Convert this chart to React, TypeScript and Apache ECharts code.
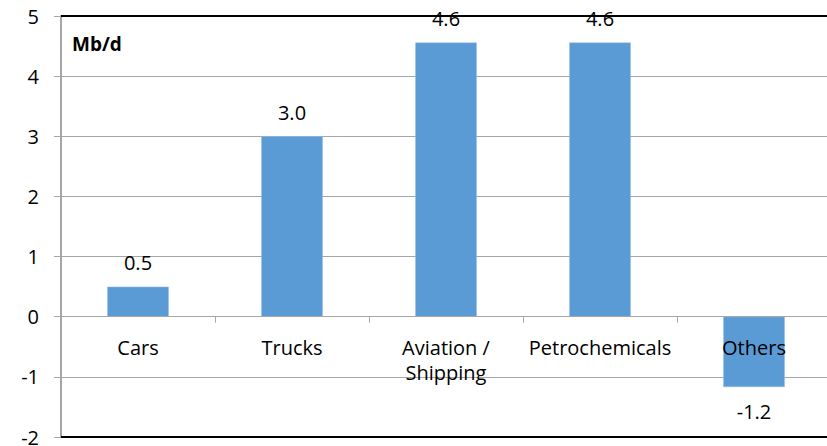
import React, { useEffect, useRef } from "react";
import * as echarts from "echarts";

const categories = ["Cars", "Trucks", "Aviation /\nShipping", "Petrochemicals", "Others"];
const values = [0.5, 3.0, 4.56, 4.56, -1.17];
const yMin = -2;
const yMax = 5;
const yInterval = 1;
const unitLabel = "Mb/d";

const FONT = "Open Sans";
const FS = 20;
const GRID_TOP = 16;
const GRID_BOTTOM = 9;
const HEIGHT = 446;

export default function App() {
  const ref = useRef<HTMLDivElement>(null);
  useEffect(() => {
    document.body.style.margin = "0";
    const chart = echarts.init(ref.current!, null, { renderer: "svg" });
    const gridH = HEIGHT - GRID_TOP - GRID_BOTTOM;
    const zeroOffset = -((0 - yMin) / (yMax - yMin)) * gridH;
    chart.setOption({
      animation: false,
      title: {
        text: unitLabel,
        left: 67,
        top: 29,
        textStyle: { fontFamily: FONT, fontSize: 19, fontWeight: "bold", color: "#000" },
      },
      grid: { left: 61, right: -4, top: GRID_TOP, bottom: GRID_BOTTOM, containLabel: false, outerBoundsMode: "none" },
      xAxis: [
        {
          type: "category",
          data: categories,
          z: 5,
          position: "bottom",
          offset: zeroOffset,
          axisLine: { onZero: false, lineStyle: { color: "#a6a6a6", width: 1 } },
          axisTick: { show: true, inside: false, length: 6, lineStyle: { color: "#a6a6a6" } },
          axisLabel: {
            fontFamily: FONT,
            fontSize: FS,
            color: "#000",
            margin: 18,
            lineHeight: 25,
            interval: 0,
          },
        },
      ],
      yAxis: {
        type: "value",
        min: yMin,
        max: yMax,
        interval: yInterval,
        axisLine: { show: true, lineStyle: { color: "#a6a6a6", width: 2 } },
        axisTick: { show: true, length: 7, lineStyle: { color: "#a6a6a6" } },
        axisLabel: { fontFamily: FONT, fontSize: FS, color: "#000", margin: 22 },
        splitLine: { show: true, lineStyle: { color: "#a6a6a6", width: 1 } },
      },
      series: [
        {
          type: "bar",
          barWidth: "40%",
          data: values.map((v) => ({
            value: v,
            label: { position: v < 0 ? "bottom" : "top" },
          })),
          itemStyle: { color: "#5b9bd5", borderColor: "#9cc3e6", borderWidth: 0.5 },
          label: {
            show: true,
            distance: 14,
            fontFamily: FONT,
            fontSize: FS,
            color: "#000",
            formatter: (p: any) => Number(p.value).toFixed(1),
          },
          markLine: {
            silent: true,
            symbol: "none",
            label: { show: false },
            lineStyle: { color: "#000", width: 2, type: "solid" },
            data: [{ yAxis: yMin }, { yAxis: yMax }],
          },
        },
      ],
    });
    return () => chart.dispose();
  }, []);
  return (
    <div
      ref={ref}
      style={{ position: "absolute", left: 0, top: 0, width: 827, height: 446 }}
    />
  );
}
